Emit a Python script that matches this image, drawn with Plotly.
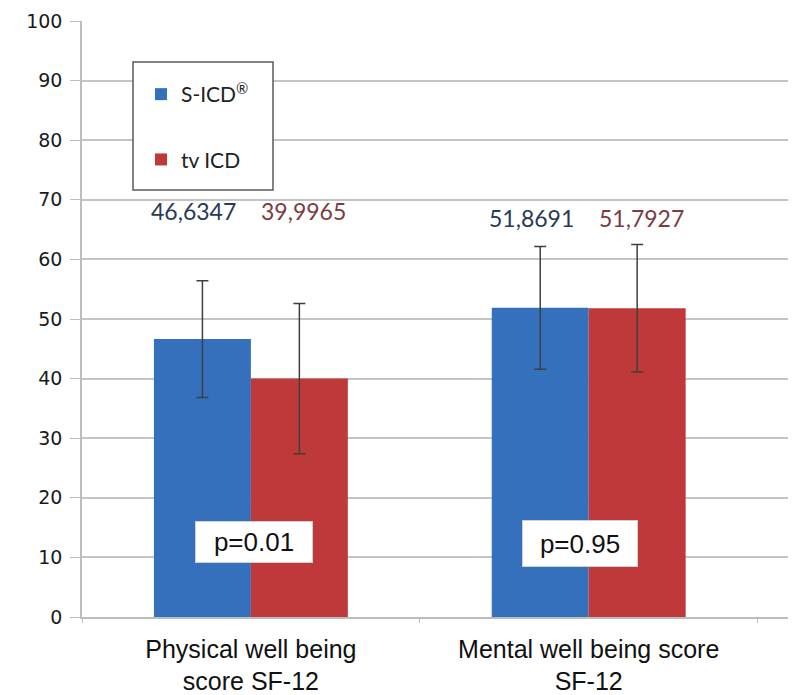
import plotly.graph_objects as go

categories = ["Physical well being<br>score SF-12", "Mental well being score<br>SF-12"]
series_names = ["S-ICD<sup>®</sup>", "tv ICD"]
sicd_values = [46.6347, 51.8691]
tvicd_values = [39.9965, 51.7927]
sicd_err = [9.8, 10.3]
tvicd_err = [12.6, 10.7]
value_labels_sicd = ["46,6347", "51,8691"]
value_labels_tvicd = ["39,9965", "51,7927"]
p_labels = ["p=0.01", "p=0.95"]

BLUE = "#3570bd"
RED = "#c0393a"
ERR = "#3f3f3f"

fig = go.Figure()
fig.add_trace(go.Bar(
    x=categories, y=sicd_values, name=series_names[0], legendgroup="a",
    marker=dict(color=BLUE, line=dict(width=0)),
    error_y=dict(type="data", array=sicd_err, color=ERR, thickness=1.5, width=6),
))
fig.add_trace(go.Bar(
    x=categories, y=tvicd_values, name=series_names[1], legendgroup="b",
    marker=dict(color=RED, line=dict(width=0)),
    error_y=dict(type="data", array=tvicd_err, color=ERR, thickness=1.5, width=6),
))

L, R, T, B = 82, 4, 21, 78
W, H = 792, 695
pw = W - L - R
ph = H - T - B

annotations = []
label_font = dict(family="Lato, Open Sans, sans-serif", size=23)
for i in range(2):
    annotations.append(dict(x=i, y=68.1 - 1.1 * i, xref="x", yref="y", text=value_labels_sicd[i],
                            showarrow=False, xshift=-57, font=dict(color="#283a55", **label_font)))
    annotations.append(dict(x=i, y=68.1 - 1.1 * i, xref="x", yref="y", text=value_labels_tvicd[i],
                            showarrow=False, xshift=53, font=dict(color="#7b3b40", **label_font)))
p_pos = [(0, 12.6, 3, 116, 40), (1, 12.4, -9, 114, 45)]
for (xi, yi, xs, w, h), txt in zip(p_pos, p_labels):
    annotations.append(dict(x=xi, y=yi, xref="x", yref="y", text=txt, showarrow=False, xshift=xs,
                            width=w, height=h, bgcolor="white", bordercolor="#cfcfcf", borderwidth=1,
                            borderpad=0,
                            font=dict(family="Liberation Sans, Arial, sans-serif", size=26, color="#111")))

def px_x(p):
    return (p - L) / pw

def px_y(p):
    return (H - B - p) / ph

shapes = [dict(type="rect", xref="paper", yref="paper",
               x0=px_x(133), x1=px_x(273), y0=px_y(190), y1=px_y(62),
               line=dict(color="#595959", width=1.5), fillcolor="white", layer="above")]

fig.update_layout(
    width=W, height=H,
    margin=dict(l=L, r=R, t=T, b=B),
    paper_bgcolor="white", plot_bgcolor="white",
    barmode="group", bargap=0.426, bargroupgap=0,
    showlegend=True,
    legend=dict(x=px_x(141), y=px_y(74), xanchor="left", yanchor="top",
                bgcolor="rgba(0,0,0,0)", borderwidth=0, traceorder="grouped",
                tracegroupgap=35, itemwidth=30,
                font=dict(family="Lato, Open Sans, sans-serif", size=21, color="#222")),
    annotations=annotations,
    shapes=shapes,
    xaxis=dict(range=[-0.5, 1.59], showline=True, linecolor="#bdbdbd", linewidth=1.5,
               ticks="outside", tickson="boundaries", ticklen=4, tickcolor="#bdbdbd",
               ticklabelstandoff=9, automargin=False,
               tickfont=dict(family="Liberation Sans, Arial, sans-serif", size=25, color="#111"),
               showgrid=False),
    yaxis=dict(range=[0, 100], dtick=10, showline=True, linecolor="#bdbdbd", linewidth=1.5,
               ticks="outside", ticklen=10, tickcolor="#bdbdbd", ticklabelstandoff=4,
               automargin=False,
               gridcolor="#c4c4c4", gridwidth=1.5, zeroline=False,
               tickfont=dict(family="DejaVu Sans, sans-serif", size=19, color="#1a1a1a")),
)

fig.write_html("out.html", config={"displayModeBar": False},
               post_script="document.body.style.margin='0';document.body.style.overflow='hidden';")
